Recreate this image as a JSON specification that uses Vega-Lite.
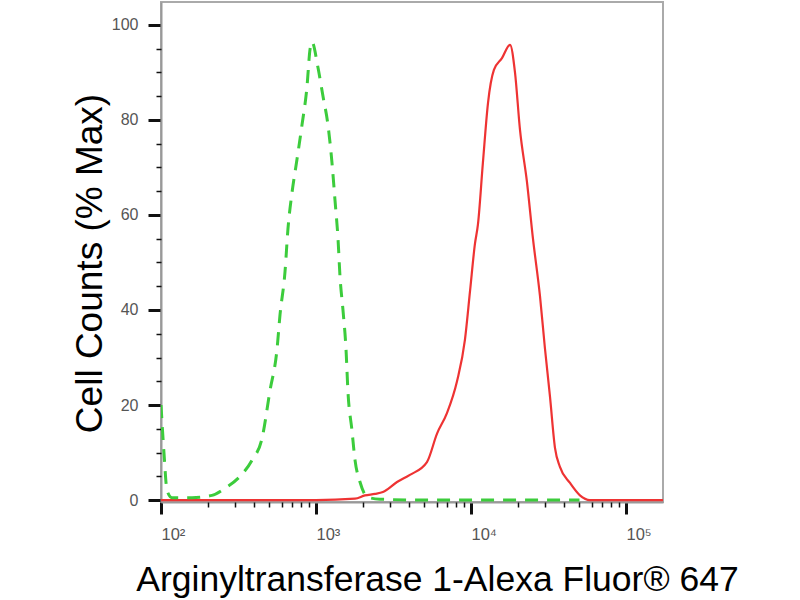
{
  "$schema": "https://vega.github.io/schema/vega-lite/v6.json",
  "autosize": "none",
  "width": 502,
  "height": 500,
  "padding": {"left": 161, "top": 2, "right": 137, "bottom": 98},
  "background": "white",
  "config": {
    "view": {"stroke": "#aaaaaa", "strokeWidth": 2},
    "font": "Liberation Sans",
    "axis": {"grid": false, "labelOverlap": false, "labelBound": false, "labelFlush": false, "domainColor": "#999999", "domainWidth": 2, "tickColor": "#111111"}
  },
  "datasets": {
    "pts": [
      {"series": "Isotype", "x": 100, "y": 20},
      {"series": "Isotype", "x": 104.5, "y": 10},
      {"series": "Isotype", "x": 109.4, "y": 2},
      {"series": "Isotype", "x": 117.8, "y": 0.5},
      {"series": "Isotype", "x": 158.5, "y": 0.5},
      {"series": "Isotype", "x": 213.3, "y": 1},
      {"series": "Isotype", "x": 258.8, "y": 2.5},
      {"series": "Isotype", "x": 323.6, "y": 5},
      {"series": "Isotype", "x": 386.4, "y": 8.4},
      {"series": "Isotype", "x": 448.7, "y": 13},
      {"series": "Isotype", "x": 504.7, "y": 23},
      {"series": "Isotype", "x": 559.8, "y": 31.6},
      {"series": "Isotype", "x": 586.1, "y": 39},
      {"series": "Isotype", "x": 631, "y": 48},
      {"series": "Isotype", "x": 659.2, "y": 57},
      {"series": "Isotype", "x": 699.8, "y": 64.6},
      {"series": "Isotype", "x": 753.4, "y": 71.6},
      {"series": "Isotype", "x": 812.8, "y": 79},
      {"series": "Isotype", "x": 875, "y": 87},
      {"series": "Isotype", "x": 914.1, "y": 94.7},
      {"series": "Isotype", "x": 941.9, "y": 96.4},
      {"series": "Isotype", "x": 1030, "y": 91},
      {"series": "Isotype", "x": 1109, "y": 85},
      {"series": "Isotype", "x": 1194, "y": 79},
      {"series": "Isotype", "x": 1268, "y": 71},
      {"series": "Isotype", "x": 1327, "y": 63},
      {"series": "Isotype", "x": 1387, "y": 55},
      {"series": "Isotype", "x": 1429, "y": 47},
      {"series": "Isotype", "x": 1493, "y": 40},
      {"series": "Isotype", "x": 1563, "y": 31.6},
      {"series": "Isotype", "x": 1607, "y": 23},
      {"series": "Isotype", "x": 1706, "y": 14.7},
      {"series": "Isotype", "x": 1786, "y": 8.4},
      {"series": "Isotype", "x": 1923, "y": 3.8},
      {"series": "Isotype", "x": 2163, "y": 0.6},
      {"series": "Isotype", "x": 2588, "y": 0.2},
      {"series": "Isotype", "x": 5012, "y": 0},
      {"series": "Isotype", "x": 15849, "y": 0},
      {"series": "Isotype", "x": 50119, "y": 0},
      {"series": "Sample", "x": 100, "y": 0},
      {"series": "Sample", "x": 1000, "y": 0},
      {"series": "Sample", "x": 1786, "y": 0.3},
      {"series": "Sample", "x": 2070, "y": 1},
      {"series": "Sample", "x": 2404, "y": 1.3},
      {"series": "Sample", "x": 2704, "y": 1.7},
      {"series": "Sample", "x": 3334, "y": 3.8},
      {"series": "Sample", "x": 4036, "y": 5.3},
      {"series": "Sample", "x": 5200, "y": 8},
      {"series": "Sample", "x": 6039, "y": 14},
      {"series": "Sample", "x": 6998, "y": 18.3},
      {"series": "Sample", "x": 8128, "y": 25},
      {"series": "Sample", "x": 9141, "y": 33.7},
      {"series": "Sample", "x": 9863, "y": 44},
      {"series": "Sample", "x": 10617, "y": 54},
      {"series": "Sample", "x": 11092, "y": 58},
      {"series": "Sample", "x": 11940, "y": 71},
      {"series": "Sample", "x": 12882, "y": 83.6},
      {"series": "Sample", "x": 14060, "y": 90.5},
      {"series": "Sample", "x": 15849, "y": 93},
      {"series": "Sample", "x": 17865, "y": 95.8},
      {"series": "Sample", "x": 19231, "y": 90},
      {"series": "Sample", "x": 20701, "y": 78},
      {"series": "Sample", "x": 22963, "y": 67},
      {"series": "Sample", "x": 25119, "y": 55},
      {"series": "Sample", "x": 27861, "y": 43},
      {"series": "Sample", "x": 29992, "y": 32},
      {"series": "Sample", "x": 32359, "y": 21.7},
      {"series": "Sample", "x": 34834, "y": 11},
      {"series": "Sample", "x": 37497, "y": 7},
      {"series": "Sample", "x": 43551, "y": 3.6},
      {"series": "Sample", "x": 50466, "y": 1},
      {"series": "Sample", "x": 58614, "y": 0},
      {"series": "Sample", "x": 173380, "y": 0}
    ]
  },
  "data": {"name": "pts"},
  "resolve": {"axis": {"x": "independent", "y": "independent"}},
  "layer": [
    {
      "transform": [{"filter": "datum.series == 'Sample'"}],
      "mark": {"type": "line", "color": "#ee3333", "strokeWidth": 2.2, "interpolate": "monotone", "clip": true},
      "encoding": {
        "x": {
          "field": "x",
          "type": "quantitative",
          "scale": {"type": "log", "domain": [100, 173380], "nice": false},
          "axis": {
            "orient": "bottom",
            "title": "Arginyltransferase 1-Alexa Fluor® 647",
            "titleFont": "Liberation Sans",
            "titleFontSize": 35.5,
            "titleFontWeight": "normal",
            "titleColor": "#000000",
            "titleX": 276,
            "titleY": 88,
            "titleBaseline": "alphabetic",
            "titleAlign": "center",
            "values": [100, 1000, 10000, 100000],
            "labelExpr": "datum.value == 100 ? '10²' : datum.value == 1000 ? '10³' : datum.value == 10000 ? '10⁴' : '10⁵'",
            "labelAlign": "left",
            "labelFont": "Liberation Sans",
            "labelFontSize": 16.5,
            "labelColor": "#555555",
            "labelPadding": 12,
            "tickSize": 12,
            "tickWidth": 3
          }
        },
        "y": {
          "field": "y",
          "type": "quantitative",
          "scale": {"domain": [-0.4, 104.8], "nice": false, "zero": false},
          "axis": {
            "orient": "left",
            "title": "Cell Counts (% Max)",
            "titleFont": "Liberation Sans",
            "titleFontSize": 37,
            "titleFontWeight": "normal",
            "titleColor": "#000000",
            "titleX": -60,
            "titleY": 261,
            "titleAngle": -90,
            "titleBaseline": "alphabetic",
            "titleAlign": "center",
            "values": [0, 20, 40, 60, 80, 100],
            "labelFont": "Liberation Sans",
            "labelFontSize": 16,
            "labelColor": "#555555",
            "labelPadding": 10,
            "tickSize": 13,
            "tickWidth": 3
          }
        }
      }
    },
    {
      "transform": [{"filter": "datum.series == 'Isotype'"}],
      "mark": {"type": "line", "color": "#3ccc3c", "strokeWidth": 3, "strokeDash": [13, 9], "interpolate": "monotone", "clip": true},
      "encoding": {
        "x": {
          "field": "x",
          "type": "quantitative",
          "axis": {
            "orient": "bottom",
            "title": null,
            "labels": false,
            "domain": false,
            "values": [200, 300, 400, 500, 600, 700, 800, 900, 2000, 3000, 4000, 5000, 6000, 7000, 8000, 9000, 20000, 30000, 40000, 50000, 60000, 70000, 80000, 90000],
            "tickSize": 5,
            "tickWidth": 1.5
          }
        },
        "y": {
          "field": "y",
          "type": "quantitative",
          "axis": {
            "orient": "left",
            "title": null,
            "labels": false,
            "domain": false,
            "values": [5, 10, 15, 25, 30, 35, 45, 50, 55, 65, 70, 75, 85, 90, 95],
            "tickSize": 5,
            "tickWidth": 1.5
          }
        }
      }
    }
  ]
}
